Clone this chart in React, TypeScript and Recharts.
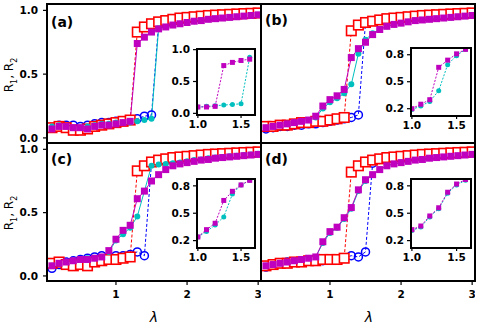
import React from 'react';
import { LineChart, Line, XAxis, YAxis } from 'recharts';

const FONT = '"DejaVu Sans", sans-serif';

// lambda values (x axis) of the main panels
const LAMBDA = [0.1, 0.2, 0.3, 0.4, 0.5, 0.6, 0.7, 0.8, 0.9, 1.0, 1.1, 1.2, 1.3, 1.4, 1.5, 1.6, 1.7, 1.8, 1.9, 2.0, 2.1, 2.2, 2.3, 2.4, 2.5, 2.6, 2.7, 2.8, 2.9, 3.0];

// panel (a)
const A_RED = [0.08, 0.09, 0.08, 0.06, 0.06, 0.07, 0.09, 0.10, 0.11, 0.12, 0.13, 0.14, 0.83, 0.87, 0.895, 0.91, 0.92, 0.93, 0.94, 0.945, 0.95, 0.955, 0.96, 0.963, 0.966, 0.969, 0.972, 0.975, 0.977, 0.98];
const A_BLUE = [0.08, 0.10, 0.10, 0.10, 0.09, 0.10, 0.11, 0.12, 0.12, 0.13, 0.13, 0.14, 0.15, 0.17, 0.18, 0.89, 0.92, 0.93, 0.94, 0.945, 0.95, 0.955, 0.96, 0.963, 0.966, 0.969, 0.972, 0.975, 0.977, 0.98];
const A_CYAN = [0.09, 0.10, 0.09, 0.08, 0.08, 0.09, 0.10, 0.11, 0.11, 0.12, 0.12, 0.12, 0.13, 0.14, 0.15, 0.86, 0.87, 0.885, 0.895, 0.905, 0.915, 0.92, 0.93, 0.935, 0.94, 0.945, 0.95, 0.955, 0.96, 0.965];
const A_MAG = [0.07, 0.09, 0.09, 0.08, 0.08, 0.07, 0.09, 0.10, 0.10, 0.11, 0.12, 0.13, 0.74, 0.79, 0.83, 0.855, 0.87, 0.885, 0.895, 0.905, 0.915, 0.92, 0.93, 0.935, 0.94, 0.945, 0.95, 0.955, 0.96, 0.965];

// panel (b)
const B_RED = [0.09, 0.09, 0.10, 0.10, 0.11, 0.12, 0.12, 0.13, 0.13, 0.14, 0.15, 0.16, 0.84, 0.885, 0.905, 0.915, 0.925, 0.935, 0.94, 0.945, 0.95, 0.955, 0.96, 0.963, 0.966, 0.969, 0.972, 0.975, 0.977, 0.98];
const B_BLUE = [0.07, 0.08, 0.09, 0.09, 0.10, 0.10, 0.11, 0.11, 0.12, 0.13, 0.14, 0.15, 0.16, 0.18, 0.905, 0.915, 0.925, 0.935, 0.94, 0.945, 0.95, 0.955, 0.96, 0.963, 0.966, 0.969, 0.972, 0.975, 0.977, 0.98];
const B_CYAN = [0.08, 0.09, 0.10, 0.11, 0.12, 0.13, 0.14, 0.16, 0.23, 0.28, 0.31, 0.35, 0.42, 0.66, 0.77, 0.82, 0.85, 0.875, 0.89, 0.90, 0.91, 0.92, 0.925, 0.93, 0.935, 0.94, 0.945, 0.95, 0.955, 0.96];
const B_MAG = [0.08, 0.09, 0.10, 0.11, 0.12, 0.13, 0.14, 0.17, 0.25, 0.30, 0.33, 0.38, 0.63, 0.70, 0.75, 0.81, 0.85, 0.875, 0.89, 0.90, 0.91, 0.92, 0.925, 0.93, 0.935, 0.94, 0.945, 0.95, 0.955, 0.96];

// panel (c)
const C_RED = [0.10, 0.11, 0.09, 0.08, 0.09, 0.08, 0.11, 0.12, 0.13, 0.13, 0.14, 0.15, 0.83, 0.87, 0.90, 0.915, 0.925, 0.935, 0.94, 0.945, 0.95, 0.955, 0.96, 0.963, 0.966, 0.969, 0.972, 0.975, 0.977, 0.98];
const C_BLUE = [0.06, 0.09, 0.11, 0.12, 0.13, 0.14, 0.15, 0.16, 0.15, 0.16, 0.16, 0.17, 0.19, 0.16, 0.89, 0.91, 0.925, 0.935, 0.94, 0.945, 0.95, 0.955, 0.96, 0.963, 0.966, 0.969, 0.972, 0.975, 0.977, 0.98];
const C_CYAN = [0.08, 0.10, 0.11, 0.12, 0.13, 0.14, 0.14, 0.15, 0.19, 0.28, 0.33, 0.38, 0.47, 0.67, 0.87, 0.88, 0.885, 0.89, 0.895, 0.905, 0.915, 0.92, 0.93, 0.935, 0.94, 0.945, 0.95, 0.955, 0.96, 0.965];
const C_MAG = [0.08, 0.10, 0.11, 0.12, 0.13, 0.13, 0.14, 0.15, 0.20, 0.29, 0.36, 0.40, 0.61, 0.67, 0.75, 0.80, 0.84, 0.87, 0.885, 0.895, 0.905, 0.915, 0.92, 0.93, 0.935, 0.94, 0.945, 0.95, 0.955, 0.96];

// panel (d)
const D_RED = [0.08, 0.09, 0.10, 0.10, 0.11, 0.11, 0.12, 0.12, 0.13, 0.13, 0.13, 0.14, 0.82, 0.87, 0.90, 0.915, 0.925, 0.935, 0.94, 0.945, 0.95, 0.955, 0.96, 0.963, 0.966, 0.969, 0.972, 0.975, 0.977, 0.98];
const D_BLUE = [0.07, 0.09, 0.10, 0.11, 0.11, 0.12, 0.12, 0.13, 0.12, 0.13, 0.13, 0.14, 0.16, 0.15, 0.19, 0.89, 0.92, 0.93, 0.94, 0.945, 0.95, 0.955, 0.96, 0.963, 0.966, 0.969, 0.972, 0.975, 0.977, 0.98];
const D_CYAN = [0.08, 0.09, 0.10, 0.11, 0.12, 0.13, 0.14, 0.15, 0.26, 0.34, 0.38, 0.45, 0.53, 0.67, 0.75, 0.80, 0.84, 0.87, 0.885, 0.895, 0.905, 0.915, 0.92, 0.93, 0.935, 0.94, 0.945, 0.95, 0.955, 0.96];
const D_MAG = [0.08, 0.09, 0.10, 0.11, 0.12, 0.13, 0.14, 0.15, 0.27, 0.35, 0.385, 0.46, 0.54, 0.68, 0.76, 0.80, 0.84, 0.87, 0.885, 0.895, 0.905, 0.915, 0.92, 0.93, 0.935, 0.94, 0.945, 0.95, 0.955, 0.96];

// insets
const INSET_L = [1.0, 1.1, 1.2, 1.3, 1.4, 1.5, 1.6];
const IA_MAG = [0.10, 0.10, 0.11, 0.75, 0.80, 0.83, 0.85];
const IA_CYAN = [0.10, 0.11, 0.12, 0.13, 0.14, 0.15, 0.88];
const IB_MAG = [0.20, 0.25, 0.30, 0.66, 0.74, 0.81, 0.86];
const IB_CYAN = [0.19, 0.23, 0.28, 0.40, 0.69, 0.79, 0.86];
const IC_MAG = [0.24, 0.32, 0.39, 0.64, 0.74, 0.81, 0.86];
const IC_CYAN = [0.24, 0.30, 0.37, 0.46, 0.71, 0.81, 0.86];
const ID_MAG = [0.32, 0.36, 0.47, 0.56, 0.73, 0.82, 0.87];
const ID_CYAN = [0.31, 0.35, 0.46, 0.55, 0.72, 0.81, 0.86];

const MAIN_X_TICKS = [1, 2, 3];
const MAIN_Y_TICKS = [0, 0.5, 1.0];
const INSET_X_TICKS = [1.0, 1.5];
const INSET_A_Y_TICKS = [0, 0.5, 1.0];
const INSET_Y_TICKS = [0.2, 0.5, 0.8];

const RED = '#ff0000';
const BLUE = '#0000ff';
const CYAN = '#00bfbf';
const MAG = '#bf00bf';

const mainTable = (r: number[], b: number[], c: number[], m: number[]) =>
  LAMBDA.map((x, i) => ({ x, r: r[i], b: b[i], c: c[i], m: m[i] }));
const insetTable = (m: number[], c: number[]) => INSET_L.map((x, i) => ({ x, m: m[i], c: c[i] }));

const DATA_A = mainTable(A_RED, A_BLUE, A_CYAN, A_MAG);
const DATA_B = mainTable(B_RED, B_BLUE, B_CYAN, B_MAG);
const DATA_C = mainTable(C_RED, C_BLUE, C_CYAN, C_MAG);
const DATA_D = mainTable(D_RED, D_BLUE, D_CYAN, D_MAG);

type Shape = 'osq' | 'ocirc' | 'fsq' | 'fcirc';
function makeDot(shape: Shape, color: string, size: number) {
  return (props: any) => {
    const { cx, cy, index } = props;
    if (cx == null || cy == null || isNaN(cx) || isNaN(cy)) return <g key={index} />;
    const h = size / 2;
    if (shape === 'osq')
      return <rect key={index} x={cx - h} y={cy - h} width={size} height={size} fill="#ffffff" stroke={color} strokeWidth={1.6} />;
    if (shape === 'ocirc')
      return <circle key={index} cx={cx} cy={cy} r={h} fill="none" stroke={color} strokeWidth={1.5} />;
    if (shape === 'fsq')
      return <rect key={index} x={cx - h} y={cy - h} width={size} height={size} fill={color} stroke="none" />;
    return <circle key={index} cx={cx} cy={cy} r={h} fill={color} stroke="none" />;
  };
}

const tickStyle = { fontSize: 10.5, fontWeight: 700, fill: '#000', fontFamily: FONT };
const X_DOMAIN: [number, number] = [0.03, 3.04];
const Y_DOMAIN: [number, number] = [-0.04, 1.05];

function MainPanel({ left, top, data, isLeft, isBottom }: { left: number; top: number; data: any[]; isLeft: boolean; isBottom: boolean }) {
  const yw = isLeft ? 47 : 6;
  const plotH = isBottom ? 138 : 139;
  const xh = 34;
  const pad = 8;
  return (
    <div style={{ position: 'absolute', left, top: top - pad }}>
      <LineChart width={yw + 214} height={plotH + pad + (isBottom ? xh : pad)} data={data} margin={{ top: pad, right: 0, bottom: isBottom ? 0 : pad, left: 0 }}>
        <XAxis
          type="number"
          dataKey="x"
          domain={X_DOMAIN}
          allowDataOverflow
          ticks={MAIN_X_TICKS}
          interval={0}
          hide={!isBottom}
          height={xh}
          axisLine={false}
          tickLine={{ stroke: '#000', strokeWidth: 1.2 }}
          tickSize={4}
          tickMargin={6}
          tick={tickStyle}
        />
        <YAxis
          type="number"
          domain={Y_DOMAIN}
          allowDataOverflow
          ticks={MAIN_Y_TICKS}
          interval={0}
          width={yw}
          axisLine={false}
          tickLine={{ stroke: '#000', strokeWidth: 1.2 }}
          tickSize={4}
          tickMargin={5}
          tick={isLeft ? tickStyle : false}
          tickFormatter={(v: number) => v.toFixed(1)}
        />
        <Line dataKey="b" stroke={BLUE} strokeWidth={1} strokeDasharray="3 2" dot={makeDot('ocirc', BLUE, 8)} activeDot={false} isAnimationActive={false} />
        <Line dataKey="r" stroke={RED} strokeWidth={1} strokeDasharray="3 2" dot={makeDot('osq', RED, 9.5)} activeDot={false} isAnimationActive={false} />
        <Line dataKey="c" stroke={CYAN} strokeWidth={1} dot={makeDot('fcirc', CYAN, 6)} activeDot={false} isAnimationActive={false} />
        <Line dataKey="m" stroke={MAG} strokeWidth={1} dot={makeDot('fsq', MAG, 7)} activeDot={false} isAnimationActive={false} />
      </LineChart>
    </div>
  );
}

function Inset({ left, top, w, h, data, yDomain, yTicks }: { left: number; top: number; w: number; h: number; data: any[]; yDomain: [number, number]; yTicks: number[] }) {
  const yw = 34;
  const xh = 22;
  const pad = 8;
  return (
    <>
      <div style={{ position: 'absolute', left, top, width: w, height: h, background: '#fff' }} />
      <div style={{ position: 'absolute', left: left - yw, top: top - pad }}>
        <LineChart width={yw + w} height={pad + h + xh} data={data} margin={{ top: pad, right: 0, bottom: 0, left: 0 }}>
          <XAxis
            type="number"
            dataKey="x"
            domain={[0.99, 1.65]}
            allowDataOverflow
            ticks={INSET_X_TICKS}
            interval={0}
            height={xh}
            axisLine={false}
            tickLine={{ stroke: '#000', strokeWidth: 1.2 }}
            tickSize={4}
            tickMargin={3}
            tick={tickStyle}
            tickFormatter={(v: number) => v.toFixed(1)}
          />
          <YAxis
            type="number"
            domain={yDomain}
            allowDataOverflow
            ticks={yTicks}
            interval={0}
            width={yw}
            axisLine={false}
            tickLine={{ stroke: '#000', strokeWidth: 1.2 }}
            tickSize={4}
            tickMargin={3}
            tick={tickStyle}
            tickFormatter={(v: number) => v.toFixed(1)}
          />
          <Line dataKey="c" stroke={CYAN} strokeWidth={1} strokeDasharray="2 1.5" dot={makeDot('fcirc', CYAN, 5)} activeDot={false} isAnimationActive={false} />
          <Line dataKey="m" stroke={MAG} strokeWidth={1} strokeDasharray="2 1.5" dot={makeDot('fsq', MAG, 5)} activeDot={false} isAnimationActive={false} />
        </LineChart>
      </div>
      <div style={{ position: 'absolute', left: left - 1.5, top: top - 1.5, width: w + 3, height: h + 3, border: '2.5px solid #000', boxSizing: 'border-box' }} />
    </>
  );
}

const Box = ({ left, top, w, h }: { left: number; top: number; w: number; h: number }) => (
  <div style={{ position: 'absolute', left, top, width: w, height: h, border: '2.5px solid #000', boxSizing: 'border-box' }} />
);

const PanelLabel = ({ left, top, text }: { left: number; top: number; text: string }) => (
  <div style={{ position: 'absolute', left, top, fontFamily: FONT, fontSize: 14, fontWeight: 700, lineHeight: '16px', color: '#000' }}>{text}</div>
);

const YLabel = ({ cy }: { cy: number }) => (
  <div style={{ position: 'absolute', left: 12, top: cy, width: 0, height: 0 }}>
    <div style={{ position: 'absolute', transform: 'translate(-50%, -50%) rotate(-90deg)', whiteSpace: 'nowrap', fontFamily: FONT, fontSize: 12, lineHeight: '14px', color: '#000' }}>
      R<sub style={{ fontSize: 8 }}>1</sub>, R<sub style={{ fontSize: 8 }}>2</sub>
    </div>
  </div>
);

const XLabel = ({ cx }: { cx: number }) => (
  <div style={{ position: 'absolute', left: cx, top: 317, width: 0, height: 0 }}>
    <div style={{ position: 'absolute', transform: 'translate(-50%, -50%)', fontFamily: FONT, fontStyle: 'italic', fontSize: 14, lineHeight: '16px', color: '#000' }}>λ</div>
  </div>
);

export default function App() {
  return (
    <div style={{ position: 'fixed', left: 0, top: 0, width: 481, height: 327, background: '#fff', overflow: 'hidden' }}>
      <MainPanel left={0} top={4} data={DATA_A} isLeft isBottom={false} />
      <MainPanel left={255} top={4} data={DATA_B} isLeft={false} isBottom={false} />
      <MainPanel left={0} top={143} data={DATA_C} isLeft isBottom />
      <MainPanel left={255} top={143} data={DATA_D} isLeft={false} isBottom />
      <Box left={46} top={3} w={216} h={141} />
      <Box left={260} top={3} w={216} h={141} />
      <Box left={46} top={142} w={216} h={140} />
      <Box left={260} top={142} w={216} h={140} />
      <Inset left={197} top={49} w={57} h={65} data={insetTable(IA_MAG, IA_CYAN)} yDomain={[-0.01, 1.01]} yTicks={INSET_A_Y_TICKS} />
      <Inset left={411} top={48} w={59} h={67} data={insetTable(IB_MAG, IB_CYAN)} yDomain={[0.13, 0.875]} yTicks={INSET_Y_TICKS} />
      <Inset left={197} top={179} w={57} h={68} data={insetTable(IC_MAG, IC_CYAN)} yDomain={[0.13, 0.875]} yTicks={INSET_Y_TICKS} />
      <Inset left={411} top={179} w={59} h={68} data={insetTable(ID_MAG, ID_CYAN)} yDomain={[0.13, 0.875]} yTicks={INSET_Y_TICKS} />
      <PanelLabel left={51} top={14} text="(a)" />
      <PanelLabel left={265} top={12} text="(b)" />
      <PanelLabel left={51} top={151} text="(c)" />
      <PanelLabel left={265} top={151} text="(d)" />
      <YLabel cy={75} />
      <YLabel cy={213} />
      <XLabel cx={154} />
      <XLabel cx={369} />
    </div>
  );
}
